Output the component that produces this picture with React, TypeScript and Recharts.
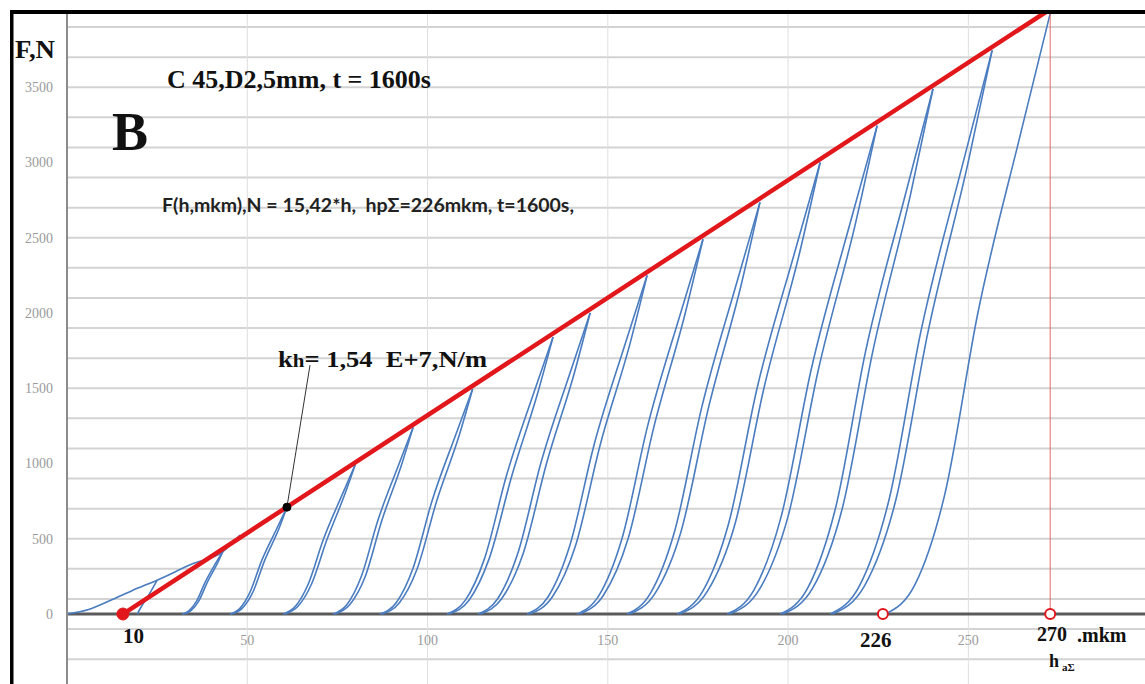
import { LineChart, Line, XAxis, YAxis, CartesianGrid, ReferenceLine, ReferenceDot } from "recharts";

// h, mkm  /  F, N
const xTicks = [50, 100, 150, 200, 250];
const yTicks = [0, 500, 1000, 1500, 2000, 2500, 3000, 3500];

// first loading curve from h = 0 and its unloading
const envelope = [[0, 0], [6, 30], [12, 90], [18, 155], [25, 225], [35, 335], [43, 410], [48, 525]];
const firstUnload = [[19.5, 0], [20.5, 45], [22, 100], [23.5, 160], [25, 225]];

const loadBranches = [
  [[31.9, 0], [33.8, 21], [35.9, 84], [38.3, 210], [41.2, 336], [43.3, 420]],
  [[45.2, 0], [47.9, 36], [50.7, 142], [54.0, 355], [58.2, 568], [61.0, 710]],
  [[59.9, 0], [63.3, 50], [66.9, 198], [71.1, 495], [76.3, 792], [79.9, 990]],
  [[73.8, 0], [77.6, 62], [81.6, 248], [86.2, 620], [92.0, 992], [96.0, 1240]],
  [[86.8, 0], [91.3, 75], [95.9, 299], [101.2, 748], [107.9, 1196], [112.5, 1495]],
  [[105.4, 0], [110.5, 92], [115.8, 368], [121.9, 920], [129.5, 1472], [134.8, 1840]],
  [[114.0, 0], [119.4, 100], [125.0, 400], [131.4, 1000], [139.5, 1600], [145.1, 2000]],
  [[127.6, 0], [133.4, 113], [139.4, 450], [146.2, 1125], [154.9, 1800], [160.9, 2250]],
  [[141.5, 0], [147.6, 125], [153.9, 498], [161.0, 1245], [170.1, 1992], [176.4, 2490]],
  [[155.3, 0], [161.8, 137], [168.5, 547], [176.0, 1368], [185.6, 2188], [192.2, 2735]],
  [[169.2, 0], [176.3, 150], [183.5, 600], [191.4, 1500], [201.8, 2400], [208.9, 3000]],
  [[183.1, 0], [190.6, 162], [198.1, 649], [206.4, 1623], [217.2, 2596], [224.7, 3245]],
  [[197.8, 0], [205.5, 175], [213.1, 698], [221.5, 1745], [232.6, 2792], [240.2, 3490]],
  [[211.7, 0], [219.8, 187], [227.9, 749], [236.8, 1873], [248.5, 2996], [256.6, 3745]],
  [[227.0, 0], [235.3, 200], [243.5, 798], [252.6, 1995], [264.5, 3192], [272.7, 3990]],
];

const unloadBranches = [
  [[32.2, 0], [34.3, 21], [36.5, 84], [38.9, 210], [41.7, 336], [43.3, 420]],
  [[45.5, 0], [48.5, 36], [51.5, 142], [54.8, 355], [58.8, 568], [61.0, 710]],
  [[60.4, 0], [64.0, 50], [67.8, 198], [72.1, 495], [77.0, 792], [79.9, 990]],
  [[74.3, 0], [78.4, 62], [82.7, 248], [87.3, 620], [92.8, 992], [96.0, 1240]],
  [[87.4, 0], [92.2, 75], [97.1, 299], [102.5, 748], [108.9, 1196], [112.5, 1495]],
  [[106.0, 0], [111.5, 92], [117.1, 368], [123.4, 920], [130.6, 1472], [134.8, 1840]],
  [[114.7, 0], [120.5, 100], [126.5, 400], [133.0, 1000], [140.7, 1600], [145.1, 2000]],
  [[128.3, 0], [134.6, 113], [141.0, 450], [147.9, 1125], [156.2, 1800], [160.9, 2250]],
  [[142.2, 0], [148.8, 125], [155.6, 498], [162.8, 1245], [171.4, 1992], [176.4, 2490]],
  [[156.0, 0], [163.1, 137], [170.3, 547], [177.9, 1368], [187.0, 2188], [192.2, 2735]],
  [[169.9, 0], [177.6, 150], [185.3, 600], [193.3, 1500], [203.2, 2400], [208.9, 3000]],
  [[183.8, 0], [192.0, 162], [200.0, 649], [208.4, 1623], [218.7, 2596], [224.7, 3245]],
  [[198.5, 0], [206.9, 175], [215.0, 698], [223.5, 1745], [234.0, 2792], [240.2, 3490]],
  [[212.4, 0], [221.2, 187], [229.8, 749], [238.8, 1873], [249.9, 2996], [256.6, 3745]],
];

// limit line F = 15,42*h (shifted), and marked points
const redLine = [[15.5, 0], [271.5, 4000]];
const startH = 15.5;
const residualH = 226.3;
const totalH = 272.7;
const kDot = [61, 710];
const kLabelEnd = [67.4, 1654];

const gridF = Array.from({ length: 44 }, (_, i) => -400 + i * 100);

const pts = (arr: number[][]) => arr.map(([h, F]) => ({ h, F }));

const BLUE = "#4a7cc0";
const RED = "#e2171c";
const serif = "'Liberation Serif', 'Times New Roman', serif";

export default function App() {
  const curves = [pts(envelope), pts(firstUnload), ...loadBranches.map(pts), ...unloadBranches.map(pts)];
  return (
    <div style={{ position: "relative", width: 1145, height: 684, background: "#fff" }}>
      <style>{`body{margin:0}`}</style>
      <LineChart width={1145} height={684} margin={{ top: 12, right: 0, left: 12, bottom: 0 }}>
        <CartesianGrid vertical={false} horizontalValues={gridF} stroke="#d3d3d3" strokeWidth={2} />
        <XAxis type="number" dataKey="h" domain={[0, 299]} ticks={xTicks} hide allowDataOverflow />
        <YAxis
          type="number"
          dataKey="F"
          domain={[-465, 4000]}
          ticks={yTicks}
          width={55}
          axisLine={{ stroke: "#8c8c8c", strokeWidth: 2 }}
          tickLine={false}
          tickSize={0}
          tickMargin={14}
          tick={{ fill: "#9a9a9a", fontSize: 14, fontFamily: serif }}
          allowDataOverflow
        />
        {xTicks.map((v) => (
          <ReferenceLine
            key={"x" + v}
            x={v}
            stroke="#dedede"
            strokeWidth={1}
            label={{
              value: String(v),
              position: "insideBottom",
              offset: 39,
              fill: "#9a9a9a",
              fontSize: 14,
              fontFamily: serif,
            }}
          />
        ))}
        <ReferenceLine y={0} stroke="#5a5a5a" strokeWidth={3} />
        {curves.map((d, i) => (
          <Line
            key={i}
            data={d}
            dataKey="F"
            type="monotone"
            stroke={BLUE}
            strokeWidth={1.6}
            dot={false}
            isAnimationActive={false}
          />
        ))}
        <ReferenceLine
          segment={[{ x: totalH, y: 0 }, { x: totalH, y: 4000 }]}
          stroke="#e46a6a"
          strokeWidth={1}
        />
        <Line
          data={pts(redLine)}
          dataKey="F"
          type="linear"
          stroke={RED}
          strokeWidth={4.5}
          dot={false}
          isAnimationActive={false}
        />
        <ReferenceLine
          segment={[{ x: kDot[0], y: kDot[1] }, { x: kLabelEnd[0], y: kLabelEnd[1] }]}
          stroke="#333"
          strokeWidth={1}
        />
        <ReferenceDot x={kDot[0]} y={kDot[1]} r={4} fill="#000" stroke="#000" />
        <ReferenceDot x={startH} y={0} r={6} fill={RED} stroke={RED} />
        <ReferenceDot x={residualH} y={0} r={5} fill="#fff" stroke={RED} strokeWidth={2} />
        <ReferenceDot x={totalH} y={0} r={5} fill="#fff" stroke={RED} strokeWidth={2} />
      </LineChart>
      <svg
        width={1145}
        height={684}
        style={{ position: "absolute", left: 0, top: 0, pointerEvents: "none" }}
      >
        <rect x={10} y={10} width={3.5} height={674} fill="#000" />
        <rect x={10} y={10} width={1135} height={4} fill="#000" />
        <g fontFamily={serif} fontWeight="bold" fill="#111">
          <text x={15} y={58} fontSize={26} textLength={40} lengthAdjust="spacingAndGlyphs">F,N</text>
          <text x={167} y={88} fontSize={26} textLength={264} lengthAdjust="spacingAndGlyphs">
            C 45,D2,5mm, t = 1600s
          </text>
          <text x={112} y={150} fontSize={54}>B</text>
          <text x={278} y={367} fontSize={24} textLength={209} lengthAdjust="spacingAndGlyphs">
            k<tspan fontSize={19}>h</tspan>{"= 1,54\u00a0\u00a0E+7,N/m"}
          </text>
          <text x={123} y={643} fontSize={21}>10</text>
          <text x={860} y={647} fontSize={21}>226</text>
          <text x={1037} y={641} fontSize={20}>270</text>
          <text x={1077} y={642} fontSize={20}>.mkm</text>
          <text x={1049} y={667} fontSize={18}>h</text>
          <text x={1062} y={671} fontSize={11}>aΣ</text>
        </g>
        <text
          x={162}
          y={212}
          fontFamily="Lato, 'Open Sans', sans-serif"
          fontWeight="bold"
          fontSize={19}
          fill="#222"
          textLength={412}
          lengthAdjust="spacingAndGlyphs"
        >
          {"F(h,mkm),N = 15,42*h,\u00a0\u00a0hpΣ=226mkm, t=1600s,"}
        </text>
      </svg>
    </div>
  );
}
